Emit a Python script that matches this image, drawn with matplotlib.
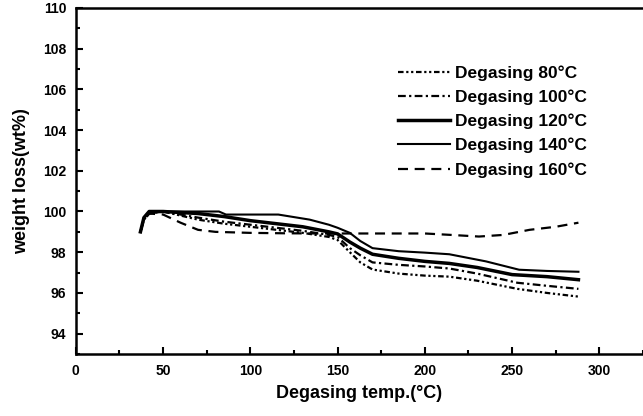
import numpy as np
import matplotlib
matplotlib.use("Agg")
import matplotlib.pyplot as plt
from matplotlib.ticker import MultipleLocator

plt.rcParams['font.family'] = ['Liberation Sans', 'DejaVu Sans']

# TGA curves, temp (C) vs weight (wt%)
t80 = [37, 39, 42, 50, 60, 70, 85, 100, 115, 130, 145, 150, 157, 163, 170, 185, 200, 214, 230, 253, 270, 288]
w80 = [99.0, 99.6, 99.9, 100.0, 99.8, 99.6, 99.4, 99.25, 99.1, 98.95, 98.75, 98.6, 98.0, 97.5, 97.15, 96.95, 96.85, 96.8, 96.6, 96.2, 96.0, 95.82]
t100 = [37, 39, 42, 50, 60, 70, 85, 100, 115, 130, 145, 150, 157, 163, 170, 185, 200, 214, 230, 253, 270, 288]
w100 = [99.0, 99.6, 99.9, 100.0, 99.85, 99.7, 99.5, 99.35, 99.2, 99.05, 98.85, 98.75, 98.2, 97.85, 97.5, 97.38, 97.3, 97.2, 96.95, 96.5, 96.35, 96.2]
t120 = [37, 39, 42, 50, 70, 85, 100, 115, 130, 145, 150, 157, 163, 170, 185, 200, 214, 230, 250, 270, 288]
w120 = [99.0, 99.7, 100.0, 100.0, 99.9, 99.75, 99.55, 99.4, 99.25, 99.0, 98.9, 98.5, 98.2, 97.9, 97.7, 97.55, 97.45, 97.25, 96.9, 96.8, 96.65]
t140 = [37, 39, 42, 50, 70, 82, 86, 100, 116, 134, 145, 150, 157, 163, 170, 185, 200, 214, 235, 254, 270, 288]
w140 = [99.0, 99.7, 100.0, 100.0, 100.0, 100.0, 99.85, 99.85, 99.85, 99.6, 99.35, 99.2, 98.95, 98.55, 98.2, 98.05, 97.98, 97.9, 97.55, 97.14, 97.08, 97.04]
t160 = [37, 39, 42, 50, 60, 70, 80, 100, 120, 140, 150, 170, 200, 215, 231, 245, 260, 275, 288]
w160 = [99.0, 99.6, 99.9, 99.85, 99.45, 99.1, 99.0, 98.95, 98.93, 98.92, 98.92, 98.92, 98.92, 98.85, 98.77, 98.85, 99.1, 99.25, 99.45]

labels = ['Degasing 80°C', 'Degasing 100°C', 'Degasing 120°C', 'Degasing 140°C', 'Degasing 160°C']

fig = plt.figure(figsize=(6.43, 4.16), dpi=100)
ax = fig.add_axes([0.118, 0.149, 0.882, 0.832])

ax.plot(t80, w80, color='k', lw=1.6, dashes=(2.5, 1.2, 1, 1.2, 1, 1.2), label=labels[0])
ax.plot(t100, w100, color='k', lw=1.6, dashes=(3.5, 1.5, 1, 1.5), label=labels[1])
ax.plot(t120, w120, color='k', lw=2.5, label=labels[2])
ax.plot(t140, w140, color='k', lw=1.5, label=labels[3])
ax.plot(t160, w160, color='k', lw=1.6, dashes=(4.5, 3), label=labels[4])

ax.set_xlim(0, 325)
ax.set_ylim(93, 110)
ax.xaxis.set_minor_locator(MultipleLocator(25))
ax.yaxis.set_minor_locator(MultipleLocator(1))
ax.set_yticks([94, 96, 98, 100, 102, 104, 106, 108, 110])
ax.set_xticks([0, 50, 100, 150, 200, 250, 300])

ax.spines['right'].set_visible(False)
for s in ['left', 'bottom', 'top']:
    ax.spines[s].set_linewidth(1.8)
ax.tick_params(which='both', direction='in', top=False, right=False, width=1.5)
ax.tick_params(which='major', length=5, labelsize=10, pad=7)
ax.tick_params(which='minor', length=3)
for lab in ax.get_xticklabels() + ax.get_yticklabels():
    lab.set_fontweight('bold')

ax.set_xlabel('Degasing temp.(°C)', fontsize=13, fontweight='bold', labelpad=5)
ax.set_ylabel('weight loss(wt%)', fontsize=13, fontweight='bold', labelpad=9)

ax.legend(loc='upper left', bbox_to_anchor=(0.541, 0.88), frameon=False,
          handlelength=3.0, handletextpad=0.25, labelspacing=0.5,
          prop={'size': 12.5, 'weight': 'bold'})

fig.savefig('out.png', dpi=100)
